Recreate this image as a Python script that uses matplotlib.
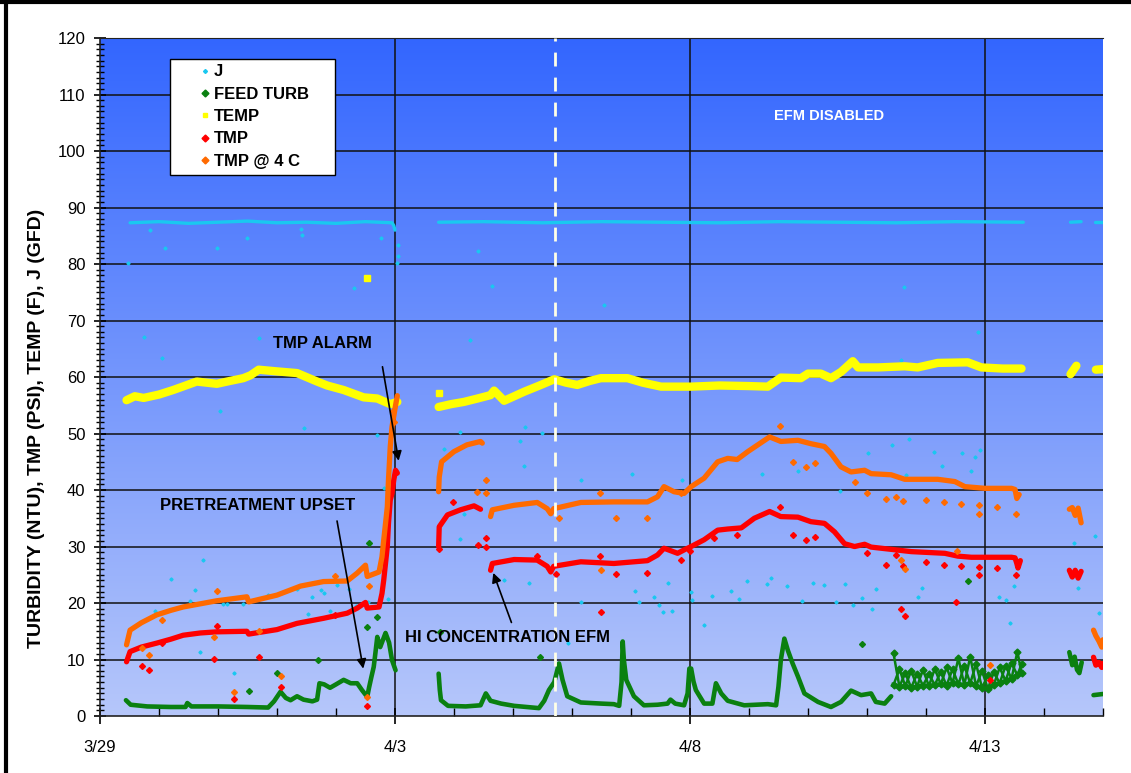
#Imports
import matplotlib
matplotlib.use('Agg')
import matplotlib.pyplot as plt
import numpy as np
from matplotlib.colors import LinearSegmentedColormap
from matplotlib.lines import Line2D
from matplotlib.patches import Rectangle

plt.rcParams['font.family'] = 'Liberation Sans'

#Data (x = days since 3/29 00:00)
tick_days = [0, 5, 10, 15]
tick_labels = ['3/29', '4/3', '4/8', '4/13']

#J (flux) - main trace segments
j_seg1_x = [0.51, 1.0, 1.5, 2.0, 2.5, 3.0, 3.5, 4.0, 4.5, 4.95, 4.98, 5.0]
j_seg1_y = [87.3, 87.5, 87.2, 87.4, 87.6, 87.3, 87.4, 87.2, 87.5, 87.3, 86.8, 86.0]
j_seg2_x = [5.74, 6.5, 7.5, 8.5, 9.5, 10.5, 11.5, 12.5, 13.5, 14.5, 15.65]
j_seg2_y = [87.4, 87.5, 87.3, 87.5, 87.4, 87.3, 87.5, 87.4, 87.3, 87.5, 87.4]
j_seg3_x = [16.45, 16.63]
j_seg3_y = [87.4, 87.5]
j_seg4_x = [16.87, 17.0]
j_seg4_y = [87.4, 87.4]
#J scattered readings
j_dots_x = [0.47, 0.85, 1.11, 1.99, 2.49, 3.40, 3.43, 4.76, 4.30, 0.74, 1.05, 2.70, 2.03, 3.45,
            5.05, 5.05, 5.04, 4.69, 6.64, 6.41, 6.28, 6.11, 7.12, 8.54, 4.81,
            1.75, 1.21, 1.61, 0.93, 1.53, 2.09, 2.16, 2.43, 1.69, 2.28, 2.77, 2.84, 3.34, 3.53,
            3.59, 3.74, 3.79, 3.90, 4.22, 4.34, 4.54, 4.88, 4.02,
            7.49, 7.20, 8.16, 9.02, 9.87, 5.83, 7.19, 6.11, 6.17, 6.85, 7.27, 8.16, 9.14, 9.39,
            9.48, 9.55, 9.62, 9.70, 10.03, 9.07, 7.93,
            13.62, 14.89, 13.57, 13.72, 13.43, 13.02, 14.13, 14.61, 14.83, 14.92, 14.76, 11.22, 11.83,
            13.66, 12.55, 10.02, 10.37, 10.70, 10.83, 10.97, 11.31, 11.38, 11.64, 11.90, 12.09,
            12.28, 12.47, 12.62, 12.76, 12.92, 13.09, 13.16, 13.86, 13.94, 14.27, 15.24, 15.35,
            15.49, 15.42, 10.23, 16.86, 16.51, 16.58, 16.93]
j_dots_y = [80.2, 86.0, 82.8, 82.8, 84.6, 86.2, 85.1, 84.6, 75.7, 67.1, 63.3, 66.9, 53.9, 50.9,
            83.4, 81.5, 80.2, 49.7, 76.2, 82.3, 66.5, 50.3, 48.7, 72.7, 40.3,
            27.7, 24.2, 22.3, 18.6, 20.4, 19.8, 19.8, 19.9, 11.3, 7.7, 15.3, 21.4, 22.5, 18.0,
            21.0, 22.3, 21.7, 18.6, 22.4, 19.5, 20.1, 20.7, 23.2,
            50.1, 51.2, 41.7, 42.8, 41.8, 47.2, 44.3, 31.4, 35.7, 24.1, 23.6, 20.1, 20.1, 21.0,
            19.6, 18.5, 23.6, 18.6, 20.5, 22.2, 12.9,
            75.9, 68.0, 63.1, 49.0, 48.0, 46.6, 46.7, 46.5, 45.9, 47.0, 43.4, 42.9, 43.4,
            42.7, 39.8, 22.0, 21.3, 22.2, 20.7, 23.9, 23.4, 24.5, 23.0, 20.4, 23.6,
            23.2, 20.1, 23.3, 19.7, 20.9, 19.0, 22.5, 21.0, 22.6, 44.3, 21.1, 20.5,
            23.0, 16.5, 16.2, 31.9, 30.7, 22.7, 18.3]

#FEED TURB
feed_seg1_x = [0.44, 0.52, 0.8, 1.2, 1.45, 1.48, 1.55, 2.0, 2.5, 2.85, 2.95, 3.06, 3.15, 3.23, 3.34,
               3.45, 3.6, 3.68, 3.72, 3.80, 3.90, 4.0, 4.13, 4.25, 4.36, 4.44, 4.53, 4.56, 4.60,
               4.64, 4.67, 4.70, 4.75, 4.84, 4.90, 4.95, 5.01]
feed_seg1_y = [2.8, 2.0, 1.7, 1.6, 1.6, 2.3, 1.7, 1.7, 1.6, 1.5, 2.6, 4.3, 3.2, 2.8, 3.5,
               2.9, 2.6, 2.9, 5.8, 5.6, 5.0, 5.6, 6.4, 5.8, 5.8, 4.6, 3.4, 5.0, 6.9,
               8.7, 11.3, 14.0, 12.2, 14.7, 13.0, 9.9, 8.1]
feed_seg2_x = [5.74, 5.76, 5.78, 5.9, 6.2, 6.45, 6.54, 6.62, 6.8, 7.02, 7.44, 7.53, 7.61, 7.70,
               7.78, 7.84, 7.92, 8.15, 8.5, 8.71, 8.80, 8.84, 8.86, 8.88, 8.92, 9.05, 9.22, 9.45,
               9.62, 9.67, 9.75, 9.90, 9.96, 9.99, 10.02, 10.06, 10.10, 10.24, 10.38, 10.44, 10.53,
               10.64, 10.92, 11.32, 11.46, 11.50, 11.54, 11.60, 11.66, 11.74, 11.83, 11.94, 12.17,
               12.39, 12.56, 12.73, 12.90, 13.07, 13.15, 13.30, 13.41]
feed_seg2_y = [7.5, 4.6, 2.8, 1.8, 1.7, 1.9, 4.0, 2.7, 2.2, 1.8, 1.4, 2.7, 4.6, 6.0,
               9.3, 6.4, 3.5, 2.4, 2.2, 2.1, 1.8, 6.0, 13.2, 9.9, 6.4, 3.5, 1.9, 2.0,
               2.2, 2.9, 2.2, 1.9, 4.0, 8.4, 8.4, 6.1, 4.6, 2.2, 2.2, 5.8, 4.0,
               2.7, 1.9, 2.1, 1.9, 5.2, 9.9, 13.7, 11.6, 9.3, 7.0, 4.0, 2.5,
               1.6, 2.5, 4.5, 3.7, 4.0, 2.5, 2.2, 3.5]
#FEED TURB noisy band 4/11 - 4/13 (lower and upper edge of the cloud)
band_x = [13.45, 13.55, 13.65, 13.75, 13.85, 13.95, 14.05, 14.15, 14.25, 14.35, 14.45, 14.55,
          14.65, 14.75, 14.85, 14.95, 15.05, 15.15, 15.25, 15.35, 15.45, 15.55, 15.62]
band_lo = [5.5, 5.2, 5.3, 5.0, 5.2, 5.4, 5.3, 5.5, 5.6, 5.4, 5.8, 5.6,
           5.5, 5.8, 5.3, 5.0, 4.8, 5.5, 5.8, 6.2, 6.6, 7.2, 7.6]
band_hi = [11.1, 8.3, 7.6, 8.0, 7.5, 8.2, 7.4, 8.4, 7.8, 8.6, 8.3, 10.2,
           8.9, 10.5, 9.2, 8.0, 7.2, 7.8, 8.6, 8.9, 9.4, 11.4, 9.2]
feed_seg3_x = [16.43, 16.48, 16.52, 16.56, 16.60, 16.64]
feed_seg3_y = [11.3, 9.0, 10.5, 8.2, 7.6, 9.5]
feed_seg4_x = [16.84, 16.92, 17.0]
feed_seg4_y = [3.7, 3.8, 3.9]
feed_dots_x = [4.56, 4.70, 4.53, 3.00, 3.69, 2.53, 5.76, 7.46, 12.91, 14.71]
feed_dots_y = [30.7, 17.5, 15.8, 7.6, 9.9, 4.5, 14.9, 10.5, 12.7, 23.9]

#TEMP
temp_seg1_x = [0.45, 0.59, 0.74, 1.0, 1.24, 1.4, 1.64, 1.98, 2.2, 2.43, 2.55, 2.69, 3.00, 3.34,
               3.68, 3.85, 4.13, 4.47, 4.70, 4.92, 5.04]
temp_seg1_y = [55.9, 56.6, 56.3, 56.9, 57.7, 58.3, 59.2, 58.8, 59.3, 59.8, 60.3, 61.3, 61.0, 60.7,
               59.2, 58.5, 57.7, 56.4, 56.2, 55.2, 55.6]
temp_seg2_x = [5.74, 5.95, 6.17, 6.40, 6.62, 6.68, 6.85, 7.00, 7.19, 7.45, 7.70, 7.9, 8.09, 8.3,
               8.49, 8.94, 9.2, 9.51, 10.02, 10.5, 11.0, 11.32, 11.54, 11.88, 12.0, 12.22, 12.39,
               12.56, 12.76, 12.85, 13.19, 13.64, 13.86, 14.20, 14.71, 14.94, 15.3, 15.62]
temp_seg2_y = [54.7, 55.2, 55.6, 56.2, 56.8, 57.6, 55.8, 56.5, 57.4, 58.5, 59.6, 59.0, 58.6, 59.3,
               59.8, 59.8, 59.0, 58.3, 58.3, 58.5, 58.4, 58.3, 59.9, 59.8, 60.6, 60.6, 59.8,
               60.9, 62.8, 61.7, 61.7, 61.9, 61.7, 62.5, 62.6, 61.7, 61.5, 61.5]
temp_seg3_x = [16.45, 16.55]
temp_seg3_y = [60.5, 62.0]
temp_seg4_x = [16.88, 17.0]
temp_seg4_y = [61.3, 61.4]
temp_dots_x = [4.53, 5.74]
temp_dots_y = [77.6, 57.2]

#TMP
tmp_seg1_x = [0.45, 0.51, 0.7, 0.96, 1.2, 1.41, 1.7, 1.98, 2.49, 2.52, 3.00, 3.34, 3.79, 4.19,
              4.36, 4.50, 4.53, 4.73, 4.78, 4.81, 4.87, 4.89, 4.92, 4.95, 4.98, 5.01, 5.04]
tmp_seg1_y = [9.6, 11.4, 12.2, 12.9, 13.6, 14.3, 14.7, 14.9, 15.0, 14.5, 15.3, 16.4, 17.3, 18.2,
              19.1, 20.1, 19.1, 19.3, 21.7, 24.1, 30.0, 34.1, 38.2, 39.4, 41.8, 43.5, 43.0]
tmp_seg2_x = [5.74, 5.75, 5.89, 6.11, 6.34, 6.45]
tmp_seg2_y = [30.0, 33.5, 35.6, 36.5, 37.2, 36.6]
tmp_seg3_x = [6.62, 6.65, 7.02, 7.41, 7.58, 7.64, 7.69, 8.15, 8.71, 9.28, 9.45, 9.56, 9.79, 9.90,
              10.02, 10.24, 10.47, 10.64, 10.87, 11.09, 11.35, 11.54, 11.83, 12.05, 12.28, 12.45,
              12.62, 12.79, 12.96, 13.07, 13.41, 13.75, 14.32, 14.54, 14.77, 15.45, 15.51, 15.54,
              15.56, 15.6]
tmp_seg3_y = [25.8, 27.0, 27.7, 27.6, 26.5, 25.5, 26.5, 27.3, 27.0, 27.5, 28.5, 29.7, 28.8, 29.4,
              30.0, 31.2, 32.9, 33.1, 33.3, 35.0, 36.2, 35.3, 35.2, 34.4, 34.1, 32.6,
              30.5, 30.0, 30.4, 29.9, 29.5, 29.1, 28.8, 28.3, 28.1, 28.1, 28.0, 27.0,
              26.2, 27.5]
tmp_seg4_x = [16.43, 16.48, 16.53, 16.58, 16.63]
tmp_seg4_y = [25.8, 24.6, 25.8, 24.4, 25.6]
tmp_seg5_x = [16.84, 16.88, 16.93, 16.98, 17.0]
tmp_seg5_y = [10.4, 9.0, 9.5, 8.6, 9.3]
tmp_dots_x = [0.71, 0.83, 1.05, 1.98, 1.94, 2.69, 2.28, 3.06, 3.99, 4.53, 6.55, 6.55, 5.74, 5.99,
              6.40, 8.47, 8.74, 9.28, 8.49, 9.84, 7.41, 7.73, 11.53, 11.74, 11.97, 12.12, 13.32,
              13.61, 14.90, 15.53, 13.57, 13.64, 14.51, 15.09, 13.0, 13.5, 14.0, 14.3, 14.6,
              14.9, 15.2, 10.0, 10.4, 10.8]
tmp_dots_y = [8.9, 8.1, 12.9, 16.0, 10.1, 10.5, 3.0, 5.1, 17.9, 1.8, 31.5, 30.0, 29.6, 37.8,
              30.2, 28.3, 25.1, 25.4, 18.4, 27.6, 28.3, 25.2, 37.0, 32.0, 31.2, 31.7, 26.7,
              26.5, 25.0, 25.0, 19.0, 17.7, 20.1, 6.3, 28.8, 28.5, 27.2, 26.8, 26.6,
              26.4, 26.2, 29.2, 31.5, 32.0]

#TMP @ 4 C
tmp4_seg1_x = [0.45, 0.51, 0.7, 0.96, 1.2, 1.41, 1.98, 2.49, 2.52, 3.00, 3.40, 3.79, 4.19, 4.36,
               4.50, 4.53, 4.73, 4.78, 4.81, 4.87, 4.89, 4.92, 4.95, 5.01, 5.04]
tmp4_seg1_y = [12.6, 15.2, 16.5, 17.9, 18.7, 19.3, 20.4, 21.1, 20.2, 21.4, 23.0, 23.8, 23.9, 25.3,
               26.7, 24.7, 25.5, 28.2, 31.2, 37.0, 41.8, 47.7, 51.2, 55.0, 56.7]
tmp4_seg2_x = [5.74, 5.75, 5.79, 6.00, 6.22, 6.45, 6.48]
tmp4_seg2_y = [39.7, 42.3, 45.0, 46.8, 48.0, 48.6, 48.3]
tmp4_seg3_x = [6.62, 6.65, 7.02, 7.41, 7.58, 7.64, 7.69, 8.15, 8.71, 9.28, 9.45, 9.56, 9.73, 9.90,
               10.02, 10.24, 10.47, 10.64, 10.80, 10.98, 11.35, 11.54, 11.83, 12.05, 12.28, 12.39,
               12.56, 12.73, 12.96, 13.07, 13.41, 13.64, 14.20, 14.49, 14.66, 15.00, 15.45, 15.51,
               15.54, 15.58]
tmp4_seg3_y = [35.3, 36.5, 37.3, 37.8, 36.7, 35.8, 36.7, 37.8, 37.9, 37.9, 38.8, 40.6, 39.7, 39.4,
               40.6, 42.1, 45.0, 45.6, 45.4, 46.8, 49.4, 48.6, 48.8, 48.2, 47.7, 46.5,
               44.1, 43.2, 43.5, 42.9, 42.7, 41.9, 41.9, 41.5, 40.6, 40.3, 40.3, 40.1,
               38.5, 39.2]
tmp4_seg4_x = [16.43, 16.48, 16.53, 16.58, 16.63]
tmp4_seg4_y = [36.6, 36.9, 35.5, 36.8, 34.2]
tmp4_seg5_x = [16.84, 16.88, 16.93, 16.98, 17.0]
tmp4_seg5_y = [15.2, 14.2, 13.3, 12.2, 13.5]
tmp4_dots_x = [0.71, 0.83, 1.05, 1.98, 1.94, 2.69, 2.28, 3.06, 3.99, 4.53, 4.56, 6.39, 6.55, 6.55,
               7.78, 8.47, 8.74, 9.28, 8.49, 9.84, 11.53, 11.74, 11.97, 12.12, 12.79, 13.32, 13.61,
               14.90, 15.53, 14.52, 13.57, 13.64, 15.09, 13.0, 13.5, 14.0, 14.3, 14.6, 14.9, 15.2,
               4.97, 4.99]
tmp4_dots_y = [12.0, 10.8, 17.0, 22.1, 13.9, 15.1, 4.3, 7.1, 24.7, 3.3, 23.0, 39.6, 41.8, 39.5,
               35.0, 39.4, 35.0, 35.0, 25.8, 39.4, 51.4, 45.0, 44.0, 44.8, 41.5, 38.5, 38.1,
               35.8, 35.7, 29.2, 27.7, 26.0, 9.0, 39.4, 38.8, 38.2, 37.9, 37.6, 37.4, 37.0,
               54.0, 52.0]

#Colors
c_j = '#19C8F0'
c_feed = '#0A8010'
c_temp = '#FFFF00'
c_tmp = '#FF0000'
c_tmp4 = '#FF6A00'

fig = plt.figure(figsize=(11.31, 7.73), dpi=100)
ax = fig.add_axes([0.0884, 0.0737, 0.8868, 0.8771])

#Gradient background
grad = np.linspace(0, 1, 256).reshape(-1, 1)
cmap = LinearSegmentedColormap.from_list('bg', ['#B6C7FA', '#3366FF'])
ax.imshow(grad, cmap=cmap, origin='lower', extent=[0, 17, 0, 120], aspect='auto', zorder=0)

#Grid lines
for yv in range(10, 120, 10):
    ax.axhline(yv, color='#111111', lw=1.1, zorder=1)
for xv in tick_days[1:]:
    ax.axvline(xv, color='#111111', lw=1.1, zorder=1)


def trace(xs, ys, color, lw):
    ax.plot(xs, ys, color=color, lw=lw, solid_capstyle='round', solid_joinstyle='round', zorder=3)


def dots(xs, ys, color, ms):
    ax.plot(xs, ys, ls='none', marker='D', ms=ms, color=color, mec=color, zorder=3)


#J
for xs, ys in [(j_seg1_x, j_seg1_y), (j_seg2_x, j_seg2_y), (j_seg3_x, j_seg3_y), (j_seg4_x, j_seg4_y)]:
    trace(xs, ys, c_j, 2.4)
dots(j_dots_x, j_dots_y, c_j, 1.6)

#FEED TURB
for xs, ys in [(feed_seg1_x, feed_seg1_y), (feed_seg2_x, feed_seg2_y), (feed_seg3_x, feed_seg3_y),
               (feed_seg4_x, feed_seg4_y)]:
    trace(xs, ys, c_feed, 3.3)
#noisy band drawn as two crossing zigzags between its lower and upper readings
zig_a = [band_lo[i] if i % 2 == 0 else band_hi[i] for i in range(len(band_x))]
zig_b = [band_hi[i] if i % 2 == 0 else band_lo[i] for i in range(len(band_x))]
ax.plot(band_x, zig_a, color=c_feed, lw=1.8, marker='D', ms=3.5, zorder=3)
ax.plot(band_x, zig_b, color=c_feed, lw=1.8, marker='D', ms=3.5, zorder=3)
ax.plot(band_x, band_lo, color=c_feed, lw=3.3, zorder=3)
dots(feed_dots_x, feed_dots_y, c_feed, 3)

#TEMP
for xs, ys in [(temp_seg1_x, temp_seg1_y), (temp_seg2_x, temp_seg2_y), (temp_seg3_x, temp_seg3_y),
               (temp_seg4_x, temp_seg4_y)]:
    trace(xs, ys, c_temp, 6)
ax.plot(temp_dots_x, temp_dots_y, ls='none', marker='s', ms=4, color=c_temp, zorder=3)

#TMP
for xs, ys in [(tmp_seg1_x, tmp_seg1_y), (tmp_seg2_x, tmp_seg2_y), (tmp_seg3_x, tmp_seg3_y),
               (tmp_seg4_x, tmp_seg4_y), (tmp_seg5_x, tmp_seg5_y)]:
    trace(xs, ys, c_tmp, 3.8)
dots(tmp_dots_x, tmp_dots_y, c_tmp, 3)

#TMP @ 4 C
for xs, ys in [(tmp4_seg1_x, tmp4_seg1_y), (tmp4_seg2_x, tmp4_seg2_y), (tmp4_seg3_x, tmp4_seg3_y),
               (tmp4_seg4_x, tmp4_seg4_y), (tmp4_seg5_x, tmp4_seg5_y)]:
    trace(xs, ys, c_tmp4, 3.8)
dots(tmp4_dots_x, tmp4_dots_y, c_tmp4, 3)

#EFM disabled marker line
ax.axvline(7.71, color='#FFFFE8', lw=2, ls=(0, (5, 4)), zorder=5)

#Axes and ticks
ax.set_xlim(0, 17)
ax.set_ylim(0, 120)
ax.set_xticks(tick_days)
ax.set_xticklabels(tick_labels)
ax.set_xticks(np.arange(0, 18, 1), minor=True)
ax.set_yticks(np.arange(0, 121, 10))
ax.set_yticks(np.arange(0, 121, 1), minor=True)
ax.tick_params(axis='both', which='major', labelsize=12, colors='black')
ax.tick_params(axis='y', which='major', direction='inout', length=9, width=1.2, pad=6)
ax.tick_params(axis='y', which='minor', direction='inout', length=6, width=1)
ax.tick_params(axis='x', which='major', direction='inout', length=12, width=1.2, pad=11)
ax.tick_params(axis='x', which='minor', direction='in', length=6, width=1)
for s in ['left', 'bottom']:
    ax.spines[s].set_color('#222222')
    ax.spines[s].set_linewidth(1.2)
ax.spines['top'].set_color('#222222')
ax.spines['right'].set_visible(False)

ax.set_ylabel('TURBIDITY (NTU), TMP (PSI), TEMP (F), J (GFD)', fontsize=14, fontweight='bold')
ax.yaxis.set_label_coords(-0.055, 0.425)

#Legend (frame drawn as its own box)
ax.add_patch(Rectangle((0.0698, 0.798), 0.1645, 0.171, transform=ax.transAxes, facecolor='white',
                       edgecolor='black', lw=1, zorder=6))
handles = [Line2D([], [], ls='none', marker='D', ms=2, color=c_j),
           Line2D([], [], ls='none', marker='D', ms=3.5, color=c_feed),
           Line2D([], [], ls='none', marker='s', ms=3.5, color=c_temp),
           Line2D([], [], ls='none', marker='D', ms=3.5, color=c_tmp),
           Line2D([], [], ls='none', marker='D', ms=3.5, color=c_tmp4)]
leg = ax.legend(handles, ['J', 'FEED TURB', 'TEMP', 'TMP', 'TMP @ 4 C'], loc='upper left',
                bbox_to_anchor=(0.0964, 0.961), frameon=False, prop={'weight': 'bold', 'size': 12},
                labelspacing=0.44, handlelength=1.0, handletextpad=0.05, borderpad=0, borderaxespad=0)
leg.set_zorder(7)

#Annotations
arrow = dict(arrowstyle='-|>', color='black', lw=1.2, mutation_scale=14)
ax.annotate('', xy=(5.07, 44.7), xytext=(4.78, 62.3), arrowprops=arrow, zorder=6)
ax.text(3.77, 66.0, 'TMP ALARM', fontsize=12, fontweight='bold', ha='center', va='center', zorder=6)
ax.annotate('', xy=(4.47, 7.9), xytext=(4.01, 35.0), arrowprops=arrow, zorder=6)
ax.text(2.67, 37.3, 'PRETREATMENT UPSET', fontsize=12, fontweight='bold', ha='center', va='center', zorder=6)
ax.annotate('', xy=(6.65, 25.8), xytext=(6.99, 16.1), arrowprops=arrow, zorder=6)
ax.text(6.9, 13.9, 'HI CONCENTRATION EFM', fontsize=12, fontweight='bold', ha='center', va='center', zorder=6)
ax.text(12.36, 106.2, 'EFM DISABLED', fontsize=10.5, fontweight='bold', color='white', ha='center', va='center', zorder=6)

#Figure frame
fig.add_artist(Line2D([0.005, 0.005], [0, 1], transform=fig.transFigure, color='black', lw=3))
fig.add_artist(Line2D([0, 1], [0.997, 0.997], transform=fig.transFigure, color='black', lw=3))

plt.savefig('out.png', dpi=100)
